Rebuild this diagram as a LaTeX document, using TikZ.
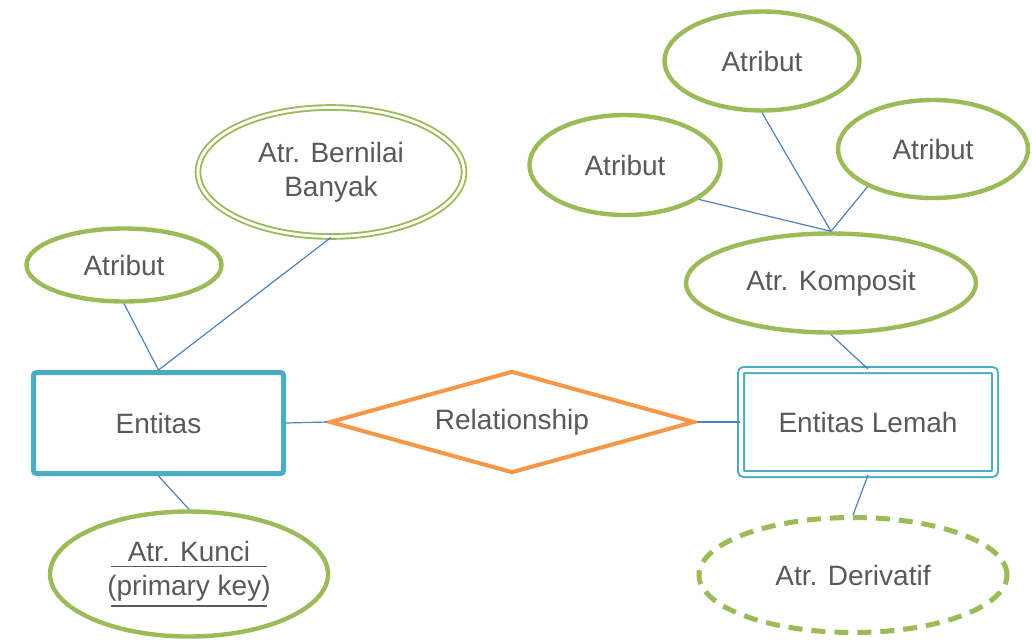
\documentclass[tikz,border=0pt]{standalone}
\usepackage{fontspec}
\setmainfont{Liberation Sans}
\usetikzlibrary{shapes.geometric}
\definecolor{entblue}{HTML}{4BACC6}
\definecolor{attgreen}{HTML}{9BBB59}
\definecolor{relorange}{HTML}{F79646}
\definecolor{linkblue}{HTML}{4F81BD}
\definecolor{textgray}{HTML}{595959}
\newcommand{\keyline}[1]{\vtop{\hbox{\makebox[78pt]{#1}}\kern1.8pt\hrule height 0.7pt}}

\begin{document}
\begin{tikzpicture}[x=0.5pt,y=-0.5pt,
    every node/.style={font=\fontsize{14}{17}\selectfont,text=textgray,inner sep=0pt,align=center},
    attr/.style={ellipse,draw=attgreen,line width=2.2pt},
    entity/.style={rectangle,draw=entblue,line width=2.5pt,rounded corners=1.5pt},
    link/.style={draw=linkblue,line width=0.6pt}]
    \useasboundingbox (0,0) rectangle (1032,643);
    % entities and relationship
    \node[entity,minimum width=125pt,minimum height=50.5pt] (ent) at (158.5,423) {Entitas};
    \node[diamond,draw=relorange,line width=2pt,aspect=3.5,minimum width=182.5pt,minimum height=51pt] (rel) at (512,422) {Relationship};
    \node[rectangle,draw=entblue,line width=1pt,double=white,double distance=2pt,rounded corners=1.5pt,minimum width=127pt,minimum height=52pt] (weak) at (868,422) {Entitas Lemah};
    % attributes
    \node[attr,minimum width=97.5pt,minimum height=36.5pt] (atrL) at (124,265) {Atribut};
    \node[ellipse,draw=attgreen,line width=0.95pt,double=white,double distance=1.4pt,minimum width=133pt,minimum height=64.5pt] (multi) at (331,172) {Atr. Bernilai\\Banyak};
    \node[attr,minimum width=139pt,minimum height=62.5pt] (kunci) at (189,574) {\keyline{Atr. Kunci}\\\keyline{(primary key)}};
    \node[attr,minimum width=145pt,minimum height=49.5pt] (komp) at (831,283) {Atr. Komposit};
    \node[attr,minimum width=97.5pt,minimum height=49.5pt] (atrT) at (762,61) {Atribut};
    \node[attr,minimum width=95.5pt,minimum height=50pt] (atrA) at (625,165) {Atribut};
    \node[attr,minimum width=95pt,minimum height=49pt] (atrB) at (933,149) {Atribut};
    \node[attr,line width=2.5pt,dash pattern=on 7pt off 4.5pt,minimum width=154pt,minimum height=57.5pt] (deriv) at (853,575) {Atr. Derivatif};
    % connectors
    \draw[link] (ent.north) -- (atrL.south);
    \draw[link] (ent.north) -- (multi.south);
    \draw[link] (ent.south) -- (kunci.north);
    \draw[link] (ent.east) -- (rel.west);
    \draw[link] (rel.east) -- (weak.west);
    \draw[link] (weak.north) -- (komp.south);
    \draw[link] (weak.south) -- (deriv.north);
    \draw[link] (komp.north) -- (atrA.-25);
    \draw[link] (komp.north) -- (atrT.south);
    \draw[link] (komp.north) -- (atrB.-150);
\end{tikzpicture}
\end{document}
